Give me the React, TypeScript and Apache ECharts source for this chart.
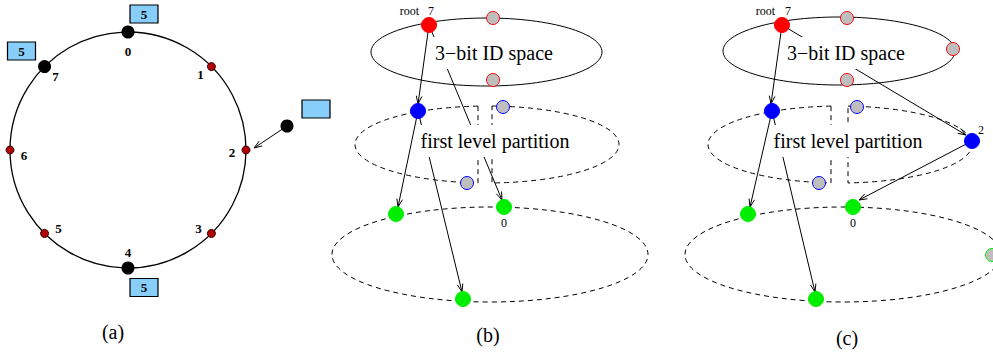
import React, { useEffect, useRef } from "react";
import * as echarts from "echarts";

// ---------- panel (a): 3-bit identifier ring ----------
const ringIds = ["0", "1", "2", "3", "4", "5", "6", "7"];
const ringOccupied = ["0", "4", "7"];
const ringFree = ["1", "2", "3", "5", "6"];
// key-count boxes next to occupied ids, and the empty box of the joining peer
const keyBoxes: [number, number, string][] = [
  [144, 14, "5"],
  [21.5, 51, "5"],
  [144, 287.5, "5"],
  [316, 109, ""],
];
const joiningPeer: [number, number][] = [[287, 126]];
const linksA: [number, number, number, number][] = [[287, 126, 254, 148]];

// ---------- panels (b) and (c): hierarchical partitions ----------
// node kinds: root, free (top level), mid, midFree, leaf, leafFree
const nodesB: [number, number, string][] = [
  [429, 25, "root"],
  [493, 18, "free"],
  [493, 80, "free"],
  [418, 111, "mid"],
  [503, 107, "midFree"],
  [467, 183, "midFree"],
  [396, 214, "leaf"],
  [504, 207, "leaf"],
  [463, 299, "leaf"],
];
const nodesC: [number, number, string][] = [
  [782, 25, "root"],
  [847, 18, "free"],
  [953, 49, "free"],
  [847, 80, "free"],
  [772, 111, "mid"],
  [972, 141, "mid"],
  [857, 107, "midFree"],
  [819, 183, "midFree"],
  [748, 214, "leaf"],
  [853, 207, "leaf"],
  [816, 299, "leaf"],
  [992, 255, "leafFree"],
];
// [cx, cy, rx, ry]
const solidRings: [number, number, number, number][] = [
  [486.5, 52, 115.5, 34],
  [839, 51, 116, 34],
];
const dashedRings: [number, number, number, number][] = [
  [490, 254.5, 158, 47.5],
  [843, 254.5, 158, 47.5],
];
// [cx, cy, rx, ry, leftCut, rightCut]
const splitRings: [number, number, number, number, number, number][] = [
  [487, 144.5, 132, 38.5, 478, 492],
  [840, 144.5, 132, 38.5, 831, 848],
];
// [fromX, fromY, tipX, tipY]
const linksB: [number, number, number, number][] = [
  [429, 25, 418, 104],
  [418, 111, 398, 207],
  [429, 25, 502, 200],
  [418, 111, 462, 292],
];
const linksC: [number, number, number, number][] = [
  [782, 25, 771, 104],
  [772, 111, 750, 207],
  [782, 25, 966, 135],
  [972, 141, 859, 200],
  [772, 111, 815, 292],
];
// [text, x, y, fontSize, align, masked]
const notes: [string, number, number, number, string, boolean][] = [
  ["(a)", 113, 332, 20, "center", false],
  ["(b)", 488, 335, 20, "center", false],
  ["(c)", 847, 338, 20, "center", false],
  ["root", 419, 11, 12, "right", false],
  ["7", 431, 11, 12, "center", false],
  ["root", 775, 11, 12, "right", false],
  ["7", 788, 11, 12, "center", false],
  ["0", 504, 223, 12, "center", false],
  ["0", 853, 223, 12, "center", false],
  ["2", 981, 130, 12, "center", false],
  ["3\u2212bit ID space", 494, 53, 20, "center", true],
  ["3\u2212bit ID space", 846, 53, 20, "center", true],
  ["first level partition", 495, 141, 20, "center", true],
  ["first level partition", 848, 141, 20, "center", true],
];

const SERIF = "Liberation Serif";

// label placement around the ring (pixel offsets from each id's dot)
const ringLabelOffset: Record<string, [number, number]> = {
  "0": [0, 19],
  "1": [-11, 8],
  "2": [-14, 2],
  "3": [-13, -5],
  "4": [0, -16],
  "5": [14, -5],
  "6": [14, 5],
  "7": [11, 10],
};

const nodeStyle: Record<string, { size: number; color: string; border: string }> = {
  root: { size: 15, color: "#ff0000", border: "#ff0000" },
  free: { size: 13, color: "#bebebe", border: "#ff0000" },
  mid: { size: 15, color: "#0000ff", border: "#0000ff" },
  midFree: { size: 13, color: "#bebebe", border: "#0000ff" },
  leaf: { size: 15, color: "#00ee00", border: "#00ee00" },
  leafFree: { size: 13, color: "#bebebe", border: "#00ee00" },
};

function ringItem(id: string) {
  const off = ringLabelOffset[id];
  return {
    value: [1, ringIds.indexOf(id)],
    label: {
      show: true,
      formatter: id,
      position: "inside",
      offset: off,
      color: "#000",
      fontSize: 13,
      fontWeight: "bold",
      fontFamily: SERIF,
    },
  };
}

function arrowSeries(data: number[][]) {
  return {
    type: "custom",
    coordinateSystem: "cartesian2d",
    silent: true,
    z: 3,
    encode: { x: [0, 2], y: [1, 3] },
    data,
    renderItem: (_p: any, api: any) => {
      const a = api.coord([api.value(0), api.value(1)]);
      const b = api.coord([api.value(2), api.value(3)]);
      const ang = Math.atan2(b[1] - a[1], b[0] - a[0]);
      const L = 8;
      const W = 2.8;
      const bx = b[0] - L * Math.cos(ang);
      const by = b[1] - L * Math.sin(ang);
      const nx = -Math.sin(ang) * W;
      const ny = Math.cos(ang) * W;
      return {
        type: "group",
        children: [
          {
            type: "line",
            shape: { x1: a[0], y1: a[1], x2: b[0], y2: b[1] },
            style: { stroke: "#000", lineWidth: 1 },
          },
          {
            type: "polyline",
            shape: { points: [[bx + nx, by + ny], [b[0], b[1]], [bx - nx, by - ny]] },
            style: { stroke: "#000", fill: "none", lineWidth: 1 },
          },
        ],
      };
    },
  };
}

function ellipseSeries(data: number[][], dashed: boolean) {
  return {
    type: "custom",
    coordinateSystem: "cartesian2d",
    silent: true,
    z: 1,
    encode: { x: 0, y: 1 },
    data,
    renderItem: (_p: any, api: any) => {
      const c = api.coord([api.value(0), api.value(1)]);
      const s = api.size([api.value(2), api.value(3)]);
      return {
        type: "ellipse",
        shape: { cx: c[0], cy: c[1], rx: Math.abs(s[0]), ry: Math.abs(s[1]) },
        style: {
          fill: "none",
          stroke: "#000",
          lineWidth: 1,
          lineDash: dashed ? [5, 4] : null,
        },
      };
    },
  };
}

// a dashed ring cut in two along a narrow vertical gap
function splitSeries(data: number[][]) {
  return {
    type: "custom",
    coordinateSystem: "cartesian2d",
    silent: true,
    z: 1,
    encode: { x: 0, y: 1 },
    data,
    renderItem: (_p: any, api: any) => {
      const c = api.coord([api.value(0), api.value(1)]);
      const s = api.size([api.value(2), api.value(3)]);
      const rx = Math.abs(s[0]);
      const ry = Math.abs(s[1]);
      const xl = api.coord([api.value(4), api.value(1)])[0];
      const xr = api.coord([api.value(5), api.value(1)])[0];
      const half = (x: number) => ry * Math.sqrt(Math.max(0, 1 - ((x - c[0]) / rx) ** 2));
      const dl = half(xl);
      const dr = half(xr);
      const style = { fill: "none", stroke: "#000", lineWidth: 1, lineDash: [5, 4] };
      return {
        type: "group",
        children: [
          {
            type: "path",
            shape: {
              pathData: `M ${xl} ${c[1] - dl} A ${rx} ${ry} 0 0 0 ${xl} ${c[1] + dl} Z`,
            },
            style,
          },
          {
            type: "path",
            shape: {
              pathData: `M ${xr} ${c[1] - dr} A ${rx} ${ry} 0 0 1 ${xr} ${c[1] + dr} Z`,
            },
            style,
          },
        ],
      };
    },
  };
}

function noteSeries() {
  return {
    type: "custom",
    coordinateSystem: "cartesian2d",
    silent: true,
    z: 4,
    encode: { x: 0, y: 1 },
    data: notes.map((n) => [n[1], n[2]]),
    renderItem: (params: any, api: any) => {
      const n = notes[params.dataIndex];
      const p = api.coord([n[1], n[2]]);
      return {
        type: "text",
        x: p[0],
        y: p[1],
        style: {
          text: n[0],
          fill: "#000",
          fontSize: n[3],
          fontFamily: SERIF,
          align: n[4],
          verticalAlign: "middle",
          backgroundColor: n[5] ? "#ffffff" : undefined,
          padding: n[5] ? [6, 3] : 0,
        },
      };
    },
  };
}

function nodeSeries(kind: string) {
  const st = nodeStyle[kind];
  const pts = [...nodesB, ...nodesC].filter((n) => n[2] === kind).map((n) => [n[0], n[1]]);
  return {
    type: "scatter",
    coordinateSystem: "cartesian2d",
    silent: true,
    z: 5,
    symbol: "circle",
    symbolSize: st.size,
    itemStyle: { color: st.color, borderColor: st.border, borderWidth: 1, opacity: 1 },
    data: pts,
  };
}

export default function App() {
  const ref = useRef<HTMLDivElement>(null);

  useEffect(() => {
    if (!ref.current) return;
    const chart = echarts.init(ref.current, undefined, { renderer: "svg" });
    chart.setOption({
      animation: false,
      backgroundColor: "#ffffff",
      grid: { left: 0, right: 0, top: 0, bottom: 0 },
      xAxis: { type: "value", min: 0, max: 993, show: false },
      yAxis: { type: "value", min: 0, max: 354, inverse: true, show: false },
      polar: { center: [128, 150], radius: 118 },
      angleAxis: {
        type: "category",
        data: ringIds,
        // ids sit at the middle of their 45° bands, id 0 at the top
        startAngle: 112.5,
        boundaryGap: true,
        axisLine: { show: true, lineStyle: { color: "#000", width: 1.3 } },
        axisTick: { show: false },
        axisLabel: { show: false },
        splitLine: { show: false },
      },
      radiusAxis: { type: "value", min: 0, max: 1, show: false, splitLine: { show: false } },
      series: [
        ellipseSeries(solidRings, false),
        ellipseSeries(dashedRings, true),
        splitSeries(splitRings),
        arrowSeries([...linksA, ...linksB, ...linksC]),
        noteSeries(),
        {
          type: "scatter",
          coordinateSystem: "polar",
          silent: true,
          z: 5,
          symbolSize: 13,
          itemStyle: { color: "#000", opacity: 1 },
          data: ringOccupied.map(ringItem),
        },
        {
          type: "scatter",
          coordinateSystem: "polar",
          silent: true,
          z: 5,
          symbolSize: 8,
          itemStyle: { color: "#b30000", borderColor: "#300000", borderWidth: 1, opacity: 1 },
          data: ringFree.map(ringItem),
        },
        {
          type: "scatter",
          coordinateSystem: "cartesian2d",
          silent: true,
          z: 5,
          symbolSize: 13,
          itemStyle: { color: "#000", opacity: 1 },
          data: joiningPeer,
        },
        {
          type: "scatter",
          coordinateSystem: "cartesian2d",
          silent: true,
          z: 5,
          symbol: "rect",
          symbolSize: [28, 18],
          itemStyle: { color: "#87cefa", borderColor: "#000", borderWidth: 1, opacity: 1 },
          label: {
            show: true,
            position: "inside",
            formatter: (p: any) => p.data[2],
            color: "#000",
            fontSize: 13,
            fontWeight: "bold",
            fontFamily: SERIF,
          },
          data: keyBoxes,
        },
        ...Object.keys(nodeStyle).map(nodeSeries),
      ],
    });
    return () => chart.dispose();
  }, []);

  return (
    <div
      ref={ref}
      style={{ position: "fixed", left: 0, top: 0, width: 993, height: 354, background: "#fff" }}
    />
  );
}
